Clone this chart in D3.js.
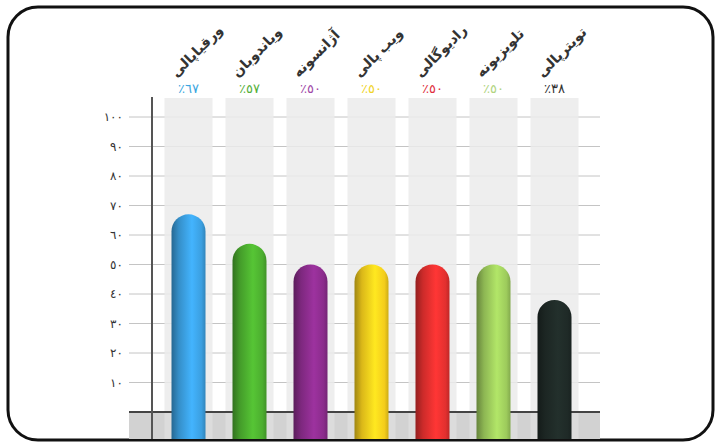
<!DOCTYPE html>
<html><head><meta charset="utf-8">
<script src="https://cdn.jsdelivr.net/npm/d3@7/dist/d3.min.js"></script>
<style>body{margin:0;background:#fff}svg{display:block}</style>
</head><body>
<script>
const categories = ["ورقیاپالی","ویاندوبان","آژانسونه","ویب پالی","رادیوگالی","تلویزیونه","تویترپالی"];
const values = [67, 57, 50, 50, 50, 50, 38];
const valueLabels = ["٪٦٧","٪٥٧","٪٥٠","٪٥٠","٪٥٠","٪٥٠","٪٣٨"];
const colors = ["#3b9fe0","#4cae2f","#8b2c8c","#f4cd1c","#e3302f","#9dcb5c","#1f2a27"];
const labelColors = ["#3ba6e0","#55b03a","#a04aa8","#f0d428","#e03040","#b0d480","#333333"];
const yTicks = [10,20,30,40,50,60,70,80,90,100];
const yTickLabels = ["١٠","٢٠","٣٠","٤٠","٥٠","٦٠","٧٠","٨٠","٩٠","١٠٠"];

const W = 723, H = 445;
const svg = d3.select("body").append("svg").attr("width", W).attr("height", H);
const defs = svg.append("defs");

svg.append("rect").attr("x",8).attr("y",7).attr("width",705).attr("height",433)
  .attr("rx",30).attr("fill","#fff").attr("stroke","#111").attr("stroke-width",3);

const x = d3.scaleBand().domain(categories).range([158, 585]).padding(0);
const y = d3.scaleLinear().domain([0,100]).range([412,117]);
const colW = 48, barW = 34, bottom = 439;
const gridL = 129, gridR = 600;

// gridlines
const grid = svg.append("g");
grid.selectAll("line").data(yTicks).join("line")
  .attr("x1", gridL).attr("x2", gridR).attr("y1", d => y(d)).attr("y2", d => y(d))
  .attr("stroke", "#c4c4c4").attr("stroke-width", 1);

// column backgrounds (semi-transparent so grid shows faintly)
svg.append("g").selectAll("rect").data(categories).join("rect")
  .attr("x", d => x(d) + x.bandwidth()/2 - colW/2).attr("y", 98)
  .attr("width", colW).attr("height", 412-98).attr("fill", "#ebebeb").attr("opacity", 0.85);

// bottom gray area
svg.append("rect").attr("x", gridL).attr("y", y(0)).attr("width", gridR-gridL)
  .attr("height", bottom - y(0)).attr("fill", "#d2d2d2");
svg.append("g").selectAll("rect").data(categories).join("rect")
  .attr("x", d => x(d) + x.bandwidth()/2 - colW/2).attr("y", y(0))
  .attr("width", colW).attr("height", bottom - y(0)).attr("fill", "#dcdcdc");
svg.append("line").attr("x1", gridL).attr("x2", gridR).attr("y1", y(0)).attr("y2", y(0))
  .attr("stroke", "#444").attr("stroke-width", 2);

// y axis line
svg.append("line").attr("x1",152).attr("x2",152).attr("y1",97).attr("y2",bottom)
  .attr("stroke","#555").attr("stroke-width",2);

// tick labels
svg.append("g").selectAll("text").data(yTicks).join("text")
  .attr("x", 123).attr("y", d => y(d)).attr("dy","0.35em")
  .attr("text-anchor","end").attr("font-family","'DejaVu Sans', sans-serif")
  .attr("font-size", 12).attr("fill","#333").attr("direction","ltr")
  .text((d,i) => yTickLabels[i]);

// gradients
colors.forEach((c,i) => {
  const g = defs.append("linearGradient").attr("id","g"+i).attr("x1","0").attr("x2","1").attr("y1","0").attr("y2","0");
  const base = d3.color(c);
  g.append("stop").attr("offset","0%").attr("stop-color", base.darker(1.2));
  g.append("stop").attr("offset","22%").attr("stop-color", base.darker(0.3));
  g.append("stop").attr("offset","60%").attr("stop-color", base.brighter(0.35));
  g.append("stop").attr("offset","88%").attr("stop-color", base);
  g.append("stop").attr("offset","100%").attr("stop-color", base.darker(0.5));
});

// bars
svg.append("g").selectAll("path").data(values).join("path")
  .attr("d", (v,i) => {
    const cx = x(categories[i]) + x.bandwidth()/2;
    const l = cx - barW/2, r = cx + barW/2, t = y(v), rr = barW/2;
    return `M${l},${bottom} L${l},${t+rr} A${rr},${rr} 0 0 1 ${r},${t+rr} L${r},${bottom} Z`;
  })
  .attr("fill", (v,i) => `url(#g${i})`);

// value labels
svg.append("g").selectAll("text").data(valueLabels).join("text")
  .attr("x", (d,i) => x(categories[i]) + x.bandwidth()/2).attr("y", 93)
  .attr("text-anchor","middle").attr("font-family","'DejaVu Sans', sans-serif")
  .attr("font-size", 13).attr("fill", (d,i) => labelColors[i]).attr("direction","ltr")
  .text(d => d);

// category labels rotated
const lg = svg.append("g").selectAll("g").data(categories).join("g")
  .attr("transform", d => `translate(${x(d) + x.bandwidth()/2 - 12},78) rotate(-45)`);
lg.append("text")
  .attr("x", 0).attr("y", 0)
  .attr("direction","rtl").attr("text-anchor","end")
  .attr("font-family","'Noto Sans', 'DejaVu Sans', sans-serif")
  .attr("font-size", 14).attr("font-weight","bold").attr("fill","#333")
  .text(d => d);
</script>
</body></html>
